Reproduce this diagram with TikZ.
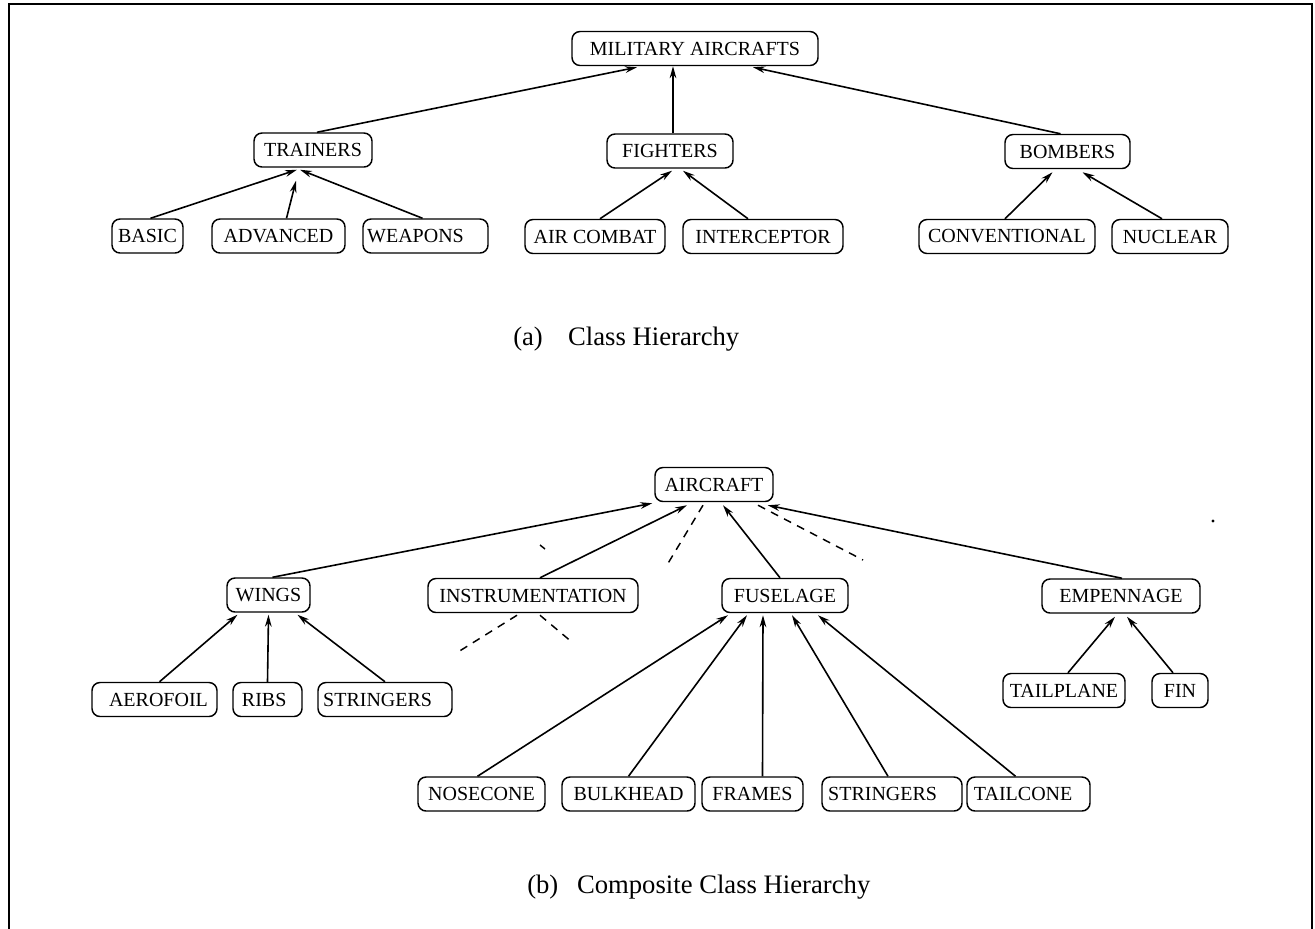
\documentclass[tikz,border=0pt]{standalone}
\usepackage{fontspec}
\setmainfont{Liberation Serif}
\usetikzlibrary{arrows.meta,calc}

\begin{document}
\begin{tikzpicture}[x=0.75pt,y=-0.75pt,
  cls/.style={draw, line width=1.1pt, rounded corners=6pt, minimum height=25.5pt,
              inner sep=0pt, font=\fontsize{15}{18}\selectfont},
  bw/.style={minimum width=#1*0.75pt},
  isa/.style={line width=1.2pt, -{Stealth[length=9pt,width=5pt]}},
  part/.style={line width=1.1pt, dash pattern=on 6pt off 5pt},
  captext/.style={inner sep=0pt, font=\fontsize{20}{24}\selectfont},
]
\useasboundingbox (0,0) rectangle (1315,929);
\clip (0,0) rectangle (1315,929);

% outer frame (bottom edge runs off the page)
\draw[line width=1.6pt] (9,945) -- (9,4) -- (1312,4) -- (1312,945);

% ---------- (a) class hierarchy ----------
\node[cls, bw=246] (mil) at (695,48.5)  {MILITARY AIRCRAFTS};
\node[cls, bw=118] (tr)  at (313,150)   {TRAINERS};
\node[cls, bw=126] (fi)  at (670,151)   {FIGHTERS};
\node[cls, bw=125] (bo)  at (1067.5,151.5) {BOMBERS};

\node[cls, bw=71]  (ba)  at (147.5,236) {BASIC};
\node[cls, bw=133] (ad)  at (278.5,236) {ADVANCED};
\node[cls, bw=125] (we)  at (425.5,236) {WEAPONS\hspace*{15pt}};
\node[cls, bw=140] (acb) at (595,236.5) {AIR COMBAT};
\node[cls, bw=160] (itc) at (763,236.5) {INTERCEPTOR};
\node[cls, bw=176] (cv)  at (1007,236.5) {CONVENTIONAL};
\node[cls, bw=116] (nu)  at (1170,236.5) {NUCLEAR};

\draw[isa] ($(tr.north)+(4,0)$)  -- ($(mil.south)+(-58,1)$);
\draw[isa] ($(fi.north)+(3,0)$)  -- ($(mil.south)+(-22,0)$);
\draw[isa] ($(bo.north)+(-7,0)$) -- ($(mil.south)+(58,1)$);

\draw[isa] ($(ba.north)+(3,0)$)  -- ($(tr.south)+(-16,2)$);
\draw[isa] ($(ad.north)+(8,0)$)  -- ($(tr.south)+(-17,13)$);
\draw[isa] ($(we.north)+(-3,0)$) -- ($(tr.south)+(-13,2)$);

\draw[isa] ($(acb.north)+(5,0)$)  -- ($(fi.south)+(2,2)$);
\draw[isa] ($(itc.north)+(-15,0)$) -- ($(fi.south)+(13,2)$);

\draw[isa] ($(cv.north)+(-2,0)$) -- ($(bo.south)+(-15,3)$);
\draw[isa] ($(nu.north)+(-8,0)$) -- ($(bo.south)+(15,3)$);

\node[captext, anchor=base west] (capa) at (513,345) {(a)\hspace{19pt}Class Hierarchy};

% ---------- (b) composite class hierarchy ----------
\node[cls, bw=118] (air) at (714,484.5) {AIRCRAFT};
\node[cls, bw=83]  (wi)  at (268.5,595) {WINGS};
\node[cls, bw=210] (ins) at (533,595.5) {INSTRUMENTATION};
\node[cls, bw=126] (fu)  at (785,595.5) {FUSELAGE};
\node[cls, bw=158] (em)  at (1121,596)  {EMPENNAGE};

\node[cls, bw=125] (ae)  at (154.5,699.5) {\hspace*{6pt}AEROFOIL};
\node[cls, bw=69]  (ri)  at (267.5,699.5) {RIBS\hspace*{5pt}};
\node[cls, bw=134] (sw)  at (385,699.5)   {STRINGERS\hspace*{11pt}};

\node[cls, bw=122] (tp)  at (1064,690.5) {TAILPLANE};
\node[cls, bw=56]  (fn)  at (1180,690.5) {FIN};

\node[cls, bw=127] (no)  at (481.5,794) {NOSECONE};
\node[cls, bw=133] (bu)  at (628.5,794) {BULKHEAD};
\node[cls, bw=101] (fr)  at (752.5,794) {FRAMES};
\node[cls, bw=140] (sf)  at (892,794)   {STRINGERS\hspace*{14pt}};
\node[cls, bw=123] (tc)  at (1028.5,794) {TAILCONE\hspace*{8pt}};

\draw[isa] ($(wi.north)+(4,0)$)  -- ($(air.south west)+(-2,1)$);
\draw[isa] ($(ins.north)+(7,0)$) -- ($(air.south)+(-27,3)$);
\draw[isa] ($(fu.north)+(-5,0)$) -- ($(air.south)+(9,3)$);
\draw[isa] ($(em.north)+(1,0)$)  -- ($(air.south east)+(-6,3)$);

% partial (dashed) links
\coordinate (d1) at (667,565);
\coordinate (d2) at (863,560);
\coordinate (d3) at (458,652);
\coordinate (d4) at (573,643);
\draw[part] ($(air.south)+(-11,3)$) -- (d1);
\draw[part] ($(air.south)+(44,3)$)  -- (d2);
\draw[part] ($(ins.south)+(-16,2)$) -- (d3);
\draw[part] ($(ins.south)+(7,2)$)   -- (d4);
\draw[line width=1.1pt] (540,545) -- (545,549);

\draw[isa] ($(ae.north)+(5,0)$)  -- ($(wi.south)+(-31,2)$);
\draw[isa] (ri.north)            -- ($(wi.south)+(0,2)$);
\draw[isa] ($(sw.north)+(0,0)$)  -- ($(wi.south)+(29,2)$);

\draw[isa] ($(no.north)+(-4,0)$)  -- ($(fu.south)+(-57,2)$);
\draw[isa] (bu.north)             -- ($(fu.south)+(-38,2)$);
\draw[isa] ($(fr.north)+(10,0)$)  -- ($(fu.south)+(-22,2)$);
\draw[isa] ($(sf.north)+(-4,0)$)  -- ($(fu.south)+(7,2)$);
\draw[isa] ($(tc.north)+(-13,0)$) -- ($(fu.south)+(33,2)$);

\draw[isa] ($(tp.north)+(4,0)$)  -- ($(em.south)+(-6,3)$);
\draw[isa] ($(fn.north)+(-7,0)$) -- ($(em.south)+(6,3)$);

\fill (1213,521) circle (1.6);

\node[captext, anchor=base west] (capb) at (527,893) {(b)\hspace{14pt}Composite Class Hierarchy};
\end{tikzpicture}
\end{document}
